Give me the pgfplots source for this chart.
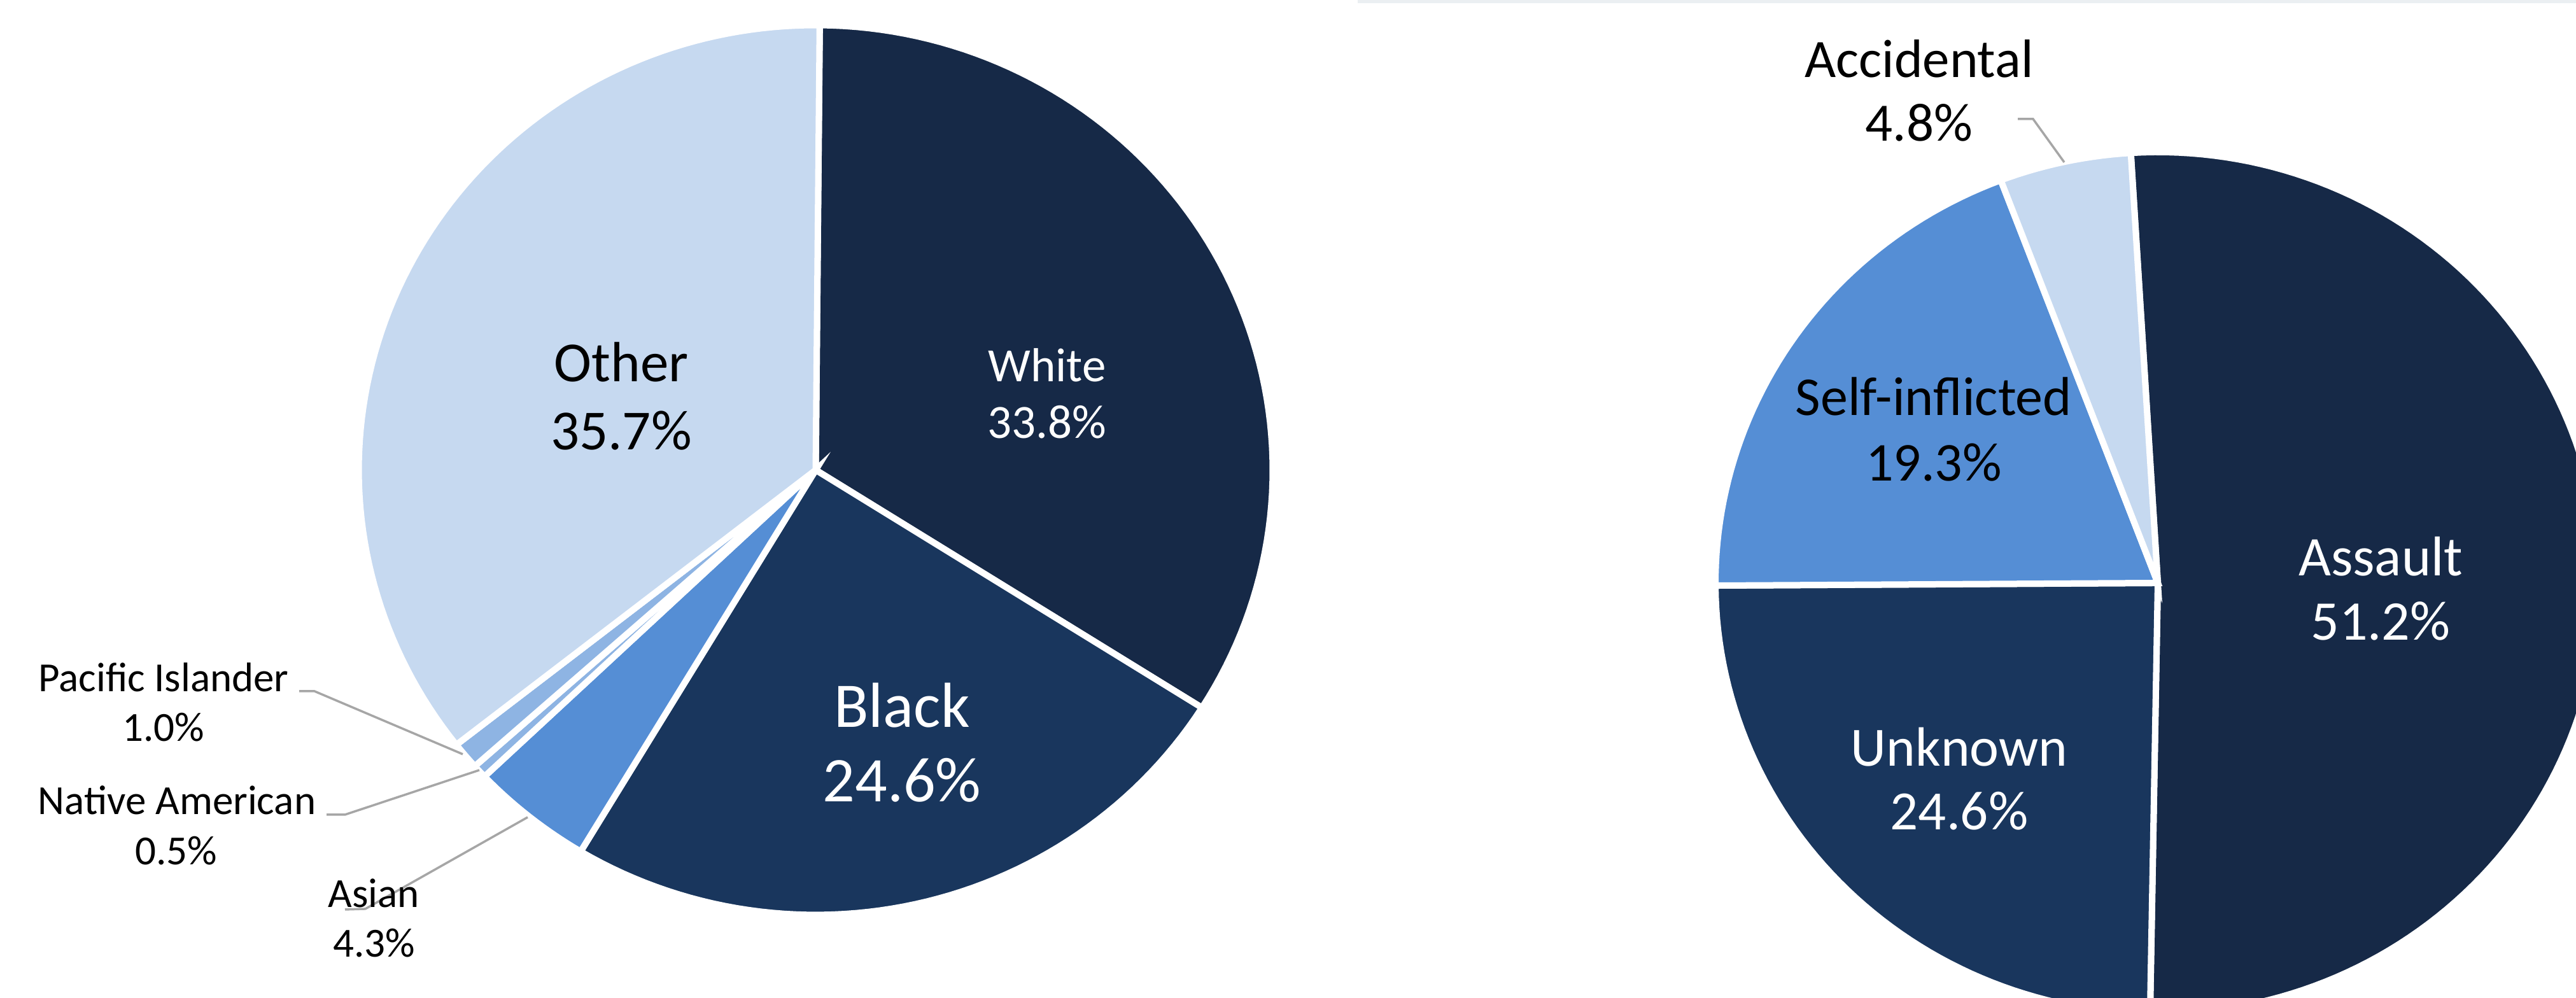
\documentclass[border=0pt]{standalone}
\usepackage{pgfplots}
\pgfplotsset{compat=1.18}
\usepackage{fontspec}
\setmainfont{Carlito}
\definecolor{cNavy}{HTML}{162947}
\definecolor{cNavyB}{HTML}{19365D}
\definecolor{cBlue}{HTML}{558ED5}
\definecolor{cMid}{HTML}{8EB4E3}
\definecolor{cLight}{HTML}{C6D9F0}
\definecolor{cLead}{HTML}{A6A6A6}
\definecolor{cBand}{HTML}{EBEFF2}

% ---- data (percent) ----
% left pie: White, Black, Asian, Native American, Pacific Islander, Other
\def\pW{33.8}\def\pB{24.6}\def\pA{4.3}\def\pN{0.5}\def\pP{1.0}\def\pO{35.7}
% right pie: Assault, Unknown, Self-inflicted, Accidental
\def\qA{51.2}\def\qU{24.6}\def\qS{19.3}\def\qC{4.8}

\pgfmathsetmacro\fL{360/(\pW+\pB+\pA+\pN+\pP+\pO)}
\pgfmathsetmacro\La{89.5}
\pgfmathsetmacro\Lb{\La-\fL*\pW}
\pgfmathsetmacro\Lc{\Lb-\fL*\pB}
\pgfmathsetmacro\Ld{\Lc-\fL*\pA}
\pgfmathsetmacro\Le{\Ld-\fL*\pN}
\pgfmathsetmacro\Lf{\Le-\fL*\pP}
\pgfmathsetmacro\Lg{\Lf-\fL*\pO}

\pgfmathsetmacro\fR{360/(\qA+\qU+\qS+\qC)}
\pgfmathsetmacro\Ra{93.5}
\pgfmathsetmacro\Rb{\Ra-\fR*\qA}
\pgfmathsetmacro\Rc{\Rb-\fR*\qU}
\pgfmathsetmacro\Rd{\Rc-\fR*\qS}
\pgfmathsetmacro\Re{\Rd-\fR*\qC}

% geometry (pixel units)
\def\Lx{1281.5}\def\Ly{829.5}\def\Lrx{718}\def\Lry{699}
\def\Rx{3390}\def\Ry{652}\def\Rrx{695}\def\Rry{677}

\begin{document}
\begin{tikzpicture}
\useasboundingbox (0,0) rectangle (404.7pt,156.8pt);
\begin{axis}[
  at={(0,0)}, anchor=south west,
  width=404.7pt, height=156.8pt, scale only axis,
  xmin=0, xmax=4047, ymin=0, ymax=1568,
  hide axis, clip=true,
]
% top band
\addplot[fill=cBand, draw=none] coordinates {(2133,1563) (4047,1563) (4047,1568) (2133,1568)} -- cycle;

% ---- left pie ----
\addplot[fill=cNavy, draw=white, line width=1pt, domain=\Lb:\La, samples=80, variable=\t]
  ({\Lx+\Lrx*cos(\t)},{\Ly+\Lry*sin(\t)}) -- (axis cs:\Lx,\Ly) -- cycle;
\addplot[fill=cNavyB, draw=white, line width=1pt, domain=\Lc:\Lb, samples=60, variable=\t]
  ({\Lx+\Lrx*cos(\t)},{\Ly+\Lry*sin(\t)}) -- (axis cs:\Lx,\Ly) -- cycle;
\addplot[fill=cBlue, draw=white, line width=1pt, domain=\Ld:\Lc, samples=15, variable=\t]
  ({\Lx+\Lrx*cos(\t)},{\Ly+\Lry*sin(\t)}) -- (axis cs:\Lx,\Ly) -- cycle;
\addplot[fill=cMid, draw=white, line width=1pt, domain=\Le:\Ld, samples=4, variable=\t]
  ({\Lx+\Lrx*cos(\t)},{\Ly+\Lry*sin(\t)}) -- (axis cs:\Lx,\Ly) -- cycle;
\addplot[fill=cMid, draw=white, line width=1pt, domain=\Lf:\Le, samples=5, variable=\t]
  ({\Lx+\Lrx*cos(\t)},{\Ly+\Lry*sin(\t)}) -- (axis cs:\Lx,\Ly) -- cycle;
\addplot[fill=cLight, draw=white, line width=1pt, domain=\Lg:\Lf, samples=90, variable=\t]
  ({\Lx+\Lrx*cos(\t)},{\Ly+\Lry*sin(\t)}) -- (axis cs:\Lx,\Ly) -- cycle;

% ---- right pie ----
\addplot[fill=cNavy, draw=white, line width=1pt, domain=\Rb:\Ra, samples=120, variable=\t]
  ({\Rx+\Rrx*cos(\t)},{\Ry+\Rry*sin(\t)}) -- (axis cs:\Rx,\Ry) -- cycle;
\addplot[fill=cNavyB, draw=white, line width=1pt, domain=\Rc:\Rb, samples=60, variable=\t]
  ({\Rx+\Rrx*cos(\t)},{\Ry+\Rry*sin(\t)}) -- (axis cs:\Rx,\Ry) -- cycle;
\addplot[fill=cBlue, draw=white, line width=1pt, domain=\Rd:\Rc, samples=50, variable=\t]
  ({\Rx+\Rrx*cos(\t)},{\Ry+\Rry*sin(\t)}) -- (axis cs:\Rx,\Ry) -- cycle;
\addplot[fill=cLight, draw=white, line width=1pt, domain=\Re:\Rd, samples=15, variable=\t]
  ({\Rx+\Rrx*cos(\t)},{\Ry+\Rry*sin(\t)}) -- (axis cs:\Rx,\Ry) -- cycle;

% ---- leader lines ----
\addplot[cLead, line width=0.35pt, no marks] coordinates {(470,482) (494,482) (727,383)};
\addplot[cLead, line width=0.35pt, no marks] coordinates {(513,288) (542,288) (753,358)};
\addplot[cLead, line width=0.35pt, no marks] coordinates {(829,284) (574,140) (542,139)};
\addplot[cLead, line width=0.35pt, no marks] coordinates {(3170,1381) (3194,1381) (3243,1313)};

% ---- labels (left) ----
\node[anchor=base, font=\fontsize{8.9}{10}\selectfont, text=black] at (axis cs:976,968) {Other};
\node[anchor=base, font=\fontsize{8.9}{10}\selectfont, text=black] at (axis cs:976,861) {35.7\%};
\node[anchor=base, font=\fontsize{7.5}{9}\selectfont, text=white] at (axis cs:1645,968) {White};
\node[anchor=base, font=\fontsize{7.5}{9}\selectfont, text=white] at (axis cs:1645,879) {33.8\%};
\node[anchor=base, font=\fontsize{10}{12}\selectfont, text=white] at (axis cs:1417,425) {Black};
\node[anchor=base, font=\fontsize{10}{12}\selectfont, text=white] at (axis cs:1417,308) {24.6\%};
\node[anchor=base, font=\fontsize{6.5}{8}\selectfont, text=black] at (axis cs:257,481) {Pacific Islander};
\node[anchor=base, font=\fontsize{6.5}{8}\selectfont, text=black] at (axis cs:257,403) {1.0\%};
\node[anchor=base, font=\fontsize{6.5}{8}\selectfont, text=black] at (axis cs:278,288) {Native American};
\node[anchor=base, font=\fontsize{6.5}{8}\selectfont, text=black] at (axis cs:277,209) {0.5\%};
\node[anchor=base, font=\fontsize{6.5}{8}\selectfont, text=black] at (axis cs:587,142) {Asian};
\node[anchor=base, font=\fontsize{6.5}{8}\selectfont, text=black] at (axis cs:588,64) {4.3\%};

% ---- labels (right) ----
\node[anchor=base, font=\fontsize{8.8}{10}\selectfont, text=white] at (axis cs:3740,663) {Assault};
\node[anchor=base, font=\fontsize{8.8}{10}\selectfont, text=white] at (axis cs:3740,562) {51.2\%};
\node[anchor=base, font=\fontsize{8.7}{10}\selectfont, text=white] at (axis cs:3078,364) {Unknown};
\node[anchor=base, font=\fontsize{8.7}{10}\selectfont, text=white] at (axis cs:3078,264) {24.6\%};
\node[anchor=base, font=\fontsize{8.6}{10}\selectfont, text=black] at (axis cs:3038,915) {Self-inflicted};
\node[anchor=base, font=\fontsize{8.6}{10}\selectfont, text=black] at (axis cs:3038,812) {19.3\%};
\node[anchor=base, font=\fontsize{8.5}{10}\selectfont, text=black] at (axis cs:3015,1446) {Accidental};
\node[anchor=base, font=\fontsize{8.5}{10}\selectfont, text=black] at (axis cs:3015,1346) {4.8\%};
\end{axis}
\end{tikzpicture}
\end{document}
